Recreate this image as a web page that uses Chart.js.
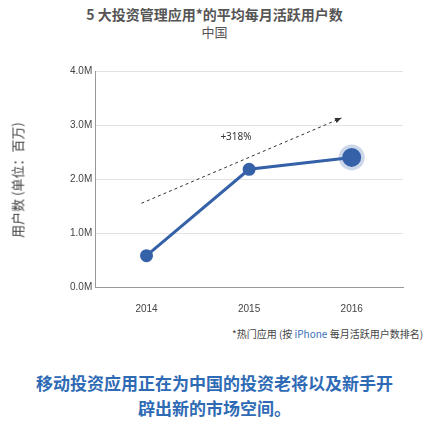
<!DOCTYPE html>
<html><head><meta charset="utf-8">
<script src="https://cdn.jsdelivr.net/npm/chart.js@4"></script>
<style>
body{margin:0;width:429px;height:427px;background:#fff;font-family:"Noto Sans CJK SC","Noto Sans",sans-serif;position:relative;overflow:hidden}
.t{position:absolute;left:0;width:429px;text-align:center;color:#555;font-weight:bold}
#wrap{position:absolute;left:0;top:50px;width:429px;height:273px}
</style></head><body>
<div class="t" style="top:4px;font-size:14px">5 大投资管理应用*的平均每月活跃用户数</div>
<div class="t" style="top:22px;font-size:13px;font-weight:normal">中国</div>
<div id="wrap"><canvas id="c"></canvas></div>
<div style="position:absolute;left:232px;top:326px;font-size:10px;color:#444">*热门应用 (按 <span style="color:#3a6fb8">iPhone</span> 每月活跃用户数排名)</div>
<div class="t" style="top:370px;font-size:17px;color:#2f6bb5;line-height:25px">移动投资应用正在为中国的投资老将以及新手开<br>辟出新的市场空间。</div>
<script>
const years = ['2014', '2015', '2016'];
const users = [0.58, 2.18, 2.4];
const yTicks = ['0.0M', '1.0M', '2.0M', '3.0M', '4.0M'];
const trendIdx = [-0.05, 1.9];   // dashed arrow, category positions
const trendVal = [1.55, 3.13]; // millions
const trendLabel = '+318%';

const blue = '#3561a8';

const trendPlugin = {
  id: 'trend',
  afterDatasetsDraw(chart) {
    const {ctx, scales: {x, y}} = chart;
    const px = i => x.getPixelForValue(0) + (x.getPixelForValue(1) - x.getPixelForValue(0)) * i;
    const x1 = px(trendIdx[0]), y1 = y.getPixelForValue(trendVal[0]);
    const x2 = px(trendIdx[1]), y2 = y.getPixelForValue(trendVal[1]);
    ctx.save();
    ctx.strokeStyle = '#333'; ctx.lineWidth = 1; ctx.setLineDash([3, 3]);
    ctx.beginPath(); ctx.moveTo(x1, y1); ctx.lineTo(x2, y2); ctx.stroke();
    ctx.setLineDash([]);
    const a = Math.atan2(y2 - y1, x2 - x1);
    ctx.fillStyle = '#333';
    ctx.beginPath();
    ctx.moveTo(x2, y2);
    ctx.lineTo(x2 - 7 * Math.cos(a - 0.4), y2 - 7 * Math.sin(a - 0.4));
    ctx.lineTo(x2 - 7 * Math.cos(a + 0.4), y2 - 7 * Math.sin(a + 0.4));
    ctx.fill();
    ctx.font = '10px "Noto Sans", sans-serif';
    ctx.fillText(trendLabel, px(0.72), y.getPixelForValue(2.72));
    ctx.restore();
  }
};

new Chart(document.getElementById('c'), {
  type: 'line',
  data: {
    labels: years,
    datasets: [{
      data: users,
      borderColor: blue,
      backgroundColor: blue,
      borderWidth: 3,
      pointRadius: [5, 5, 8],
      pointHoverRadius: [5, 5, 8],
      order: 1
    }, {
      data: [null, null, users[2]],
      showLine: false,
      pointRadius: 13,
      backgroundColor: 'rgba(53,97,168,0.25)',
      borderWidth: 0,
      order: 2
    }]
  },
  options: {
    responsive: true,
    maintainAspectRatio: false,
    animation: false,
    layout: {padding: {left: 67, right: 26, top: 21, bottom: 0}},
    plugins: {legend: {display: false}, tooltip: {enabled: false}},
    scales: {
      x: {
        offset: true,
        grid: {display: false},
        border: {color: '#999'},
        ticks: {color: '#444', font: {size: 10}, padding: 8}
      },
      y: {
        min: 0, max: 4,
        ticks: {stepSize: 1, color: '#444', font: {size: 10}, callback: (v, i) => yTicks[i]},
        grid: {color: '#e2e2e2', drawTicks: false},
        border: {color: '#999'},
        title: {display: false}
      }
    }
  },
  plugins: [trendPlugin]
});
</script>
<div style="position:absolute;left:17px;top:180px;transform:translate(-50%,-50%) rotate(-90deg);white-space:nowrap;font-size:13px;color:#444">用户数 (单位：百万)</div>
</body></html>
